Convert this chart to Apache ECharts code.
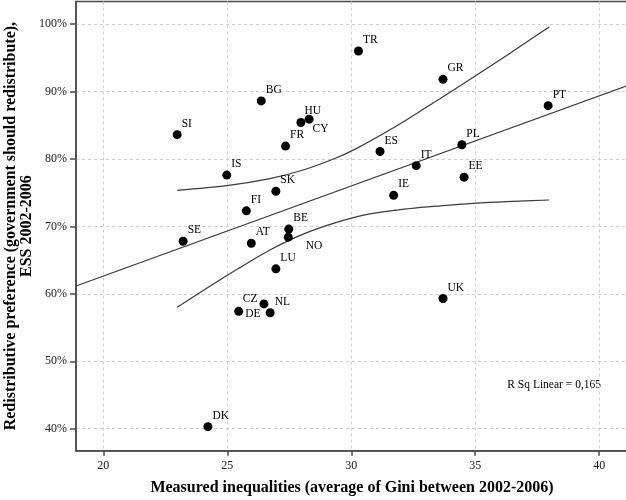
<!DOCTYPE html>
<html><head><meta charset="utf-8">
<script src="https://cdn.jsdelivr.net/npm/echarts@6/dist/echarts.min.js"></script>
<style>html,body{margin:0;padding:0;background:#fff}#c{width:626px;height:500px}</style>
</head><body><div id="c"></div>
<script>
// ---- data ----
const countries = ['SI','BG','HU','CY','FR','IS','SK','FI','BE','NO','SE','AT','LU','CZ','DE','NL','DK','TR','GR','PT','PL','ES','IT','EE','IE','UK'];
const gini      = [22.98,26.37,27.97,28.30,27.35,24.98,26.96,25.77,27.48,27.46,23.22,25.97,26.96,26.48,25.46,26.73,24.22,30.29,33.70,37.94,34.46,31.16,32.62,34.55,31.71,33.70];
const pref      = [83.6, 88.6, 85.4, 85.9, 81.9, 77.6, 75.2, 72.3, 69.6, 68.4, 67.8, 67.5, 63.7, 58.5, 57.4, 57.2, 40.3, 96.0, 91.8, 87.9, 82.1, 81.1, 79.0, 77.3, 74.6, 59.3];
const xTicks = [20,25,30,35,40];
const yTicks = [40,50,60,70,80,90,100];
const fitX = [18.9, 41.16];
const fitY = [61.16, 90.9];
const upperX = [22.98,24.98,26.72,28.06,29.41,30.22,31.56,32.90,34.25,35.59,36.94,37.98];
const upperY = [75.34,76.04,77.08,78.35,80.17,81.56,84.31,87.35,90.5, 93.7, 97.0, 99.55];
const lowerX = [22.98,24.03,25.38,26.72,28.06,29.41,30.75,32.37,33.58,34.92,36.27,37.98];
const lowerY = [58.0, 60.5, 63.6, 66.5, 68.85,70.6, 71.85,72.65,73.05,73.42,73.68,73.91];
const rSqText = 'R Sq Linear = 0,165';
const xTitle = 'Measured inequalities (average of Gini between 2002-2006)';
const yTitle = 'Redistributive preference (government should redistribute),\nESS 2002-2006';

// ---- label placement tweaks (style, not data) ----
const labelTweaks = {
  HU: {position:'right', offset:[-1,-12]},
  CY: {position:'right', offset:[-1,10]},
  NO: {position:'right', offset:[13,9]},
  CZ: {position:'left', offset:[-2,-5]},
  DE: {position:'right', offset:[2,3]}
};

const SERIF = '"Liberation Serif", "Times New Roman", serif';
const pts = countries.map((c,i) => {
  const t = labelTweaks[c] || {position:'right', offset:[0,-11]};
  return {value:[gini[i], pref[i]], name:c, label:{position:t.position, offset:t.offset}};
});
const zip = (a,b) => a.map((v,i)=>[v,b[i]]);

const frame = '#4a4a4a';
const chart = echarts.init(document.getElementById('c'), null, {renderer:'canvas'});
chart.setOption({
  animation:false,
  backgroundColor:'#fff',
  grid:{left:76, top:1.5, right:-2, bottom:49.3, containLabel:false, outerBoundsMode:'none',
        show:true, borderColor:frame, borderWidth:1.5},
  xAxis:{
    type:'value', min:18.9, max:41.16,
    name:xTitle, nameLocation:'middle', nameGap:29, nameMoveOverlap:false,
    nameTextStyle:{fontFamily:SERIF, fontWeight:'bold', fontSize:16, color:'#000'},
    axisLine:{show:true, lineStyle:{color:frame, width:1.5}},
    axisTick:{show:true, inside:false, length:5, customValues:xTicks, lineStyle:{color:frame, width:1.5}},
    axisLabel:{customValues:xTicks, margin:9, fontFamily:SERIF, fontSize:12, color:'#222'},
    splitLine:{show:true, lineStyle:{color:'#cfcfcf', type:[3,3], width:1}}
  },
  yAxis:{
    type:'value', min:36.74, max:103.34,
    name:yTitle, nameLocation:'middle', nameGap:41, nameRotate:90, nameMoveOverlap:false,
    nameTextStyle:{fontFamily:SERIF, fontWeight:'bold', fontSize:16, lineHeight:16, color:'#000', align:'center'},
    axisLine:{show:true, lineStyle:{color:frame, width:1.5}},
    axisTick:{show:true, inside:false, length:6, customValues:yTicks, lineStyle:{color:frame, width:1.5}},
    axisLabel:{customValues:yTicks, margin:9, formatter:'{value}%', fontFamily:SERIF, fontSize:12, color:'#222'},
    splitLine:{show:true, lineStyle:{color:'#cfcfcf', type:[3,3], width:1}}
  },
  series:[
    {type:'line', data:zip(fitX,fitY), symbol:'none', lineStyle:{color:'#3a3a3a', width:1.2}, z:2},
    {type:'line', data:zip(upperX,upperY), symbol:'none', smooth:0.3, lineStyle:{color:'#3a3a3a', width:1.2}, z:2},
    {type:'line', data:zip(lowerX,lowerY), symbol:'none', smooth:0.3, lineStyle:{color:'#3a3a3a', width:1.2}, z:2},
    {type:'scatter', data:pts, symbol:'circle', symbolSize:9, itemStyle:{color:'#000', opacity:1}, z:3,
     label:{show:true, formatter:'{b}', distance:0, fontFamily:SERIF, fontSize:11.5, color:'#000'}}
  ],
  graphic:[
    {type:'text', right:25, top:379, style:{text:rSqText, font:'11.5px ' + SERIF, fill:'#000'}}
  ]
});
</script></body></html>
